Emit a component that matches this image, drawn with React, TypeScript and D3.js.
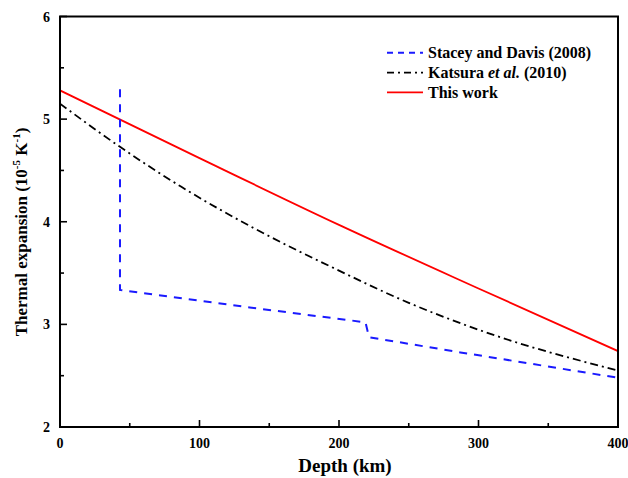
import React from "react";
import * as d3 from "d3";

const staceyDepth = [43, 43, 136, 219, 221.5, 287, 400];
const staceyAlpha = [5.29, 3.335, 3.165, 3.02, 2.875, 2.727, 2.48];

const katsuraDepth = [0, 43, 87, 140, 196, 250, 308, 400];
const katsuraAlpha = [5.15, 4.73, 4.34, 3.93, 3.55, 3.21, 2.91, 2.55];

const thisDepth = [0, 100, 200, 300, 400];
const thisAlpha = [5.28, 4.62, 3.97, 3.35, 2.74];

const xTicks = [0, 100, 200, 300, 400];
const xMinor = [50, 150, 250, 350];
const yTicks = [2, 3, 4, 5, 6];
const yMinor = [2.5, 3.5, 4.5, 5.5];

const W = 628, H = 478;
const left = 60, right = 618, top = 16.5, bottom = 427;

export default function App() {
  const x = d3.scaleLinear().domain([0, 400]).range([left, right]);
  const y = d3.scaleLinear().domain([2, 6]).range([bottom, top]);
  const line = d3.line<[number, number]>().x(d => x(d[0])).y(d => y(d[1]));
  const smooth = d3.line<[number, number]>().x(d => x(d[0])).y(d => y(d[1])).curve(d3.curveMonotoneX);
  const zip = (a: number[], b: number[]) => a.map((v, i) => [v, b[i]] as [number, number]);
  const font = "'Liberation Serif', 'Times New Roman', serif";
  return (
    <svg width={W} height={H} style={{ position: "absolute", left: 0, top: 0, background: "#fff" }} fontFamily={font}>
      <defs>
        <clipPath id="plot"><rect x={left} y={top} width={right - left} height={bottom - top} /></clipPath>
      </defs>
      <g clipPath="url(#plot)" fill="none" strokeWidth={1.8}>
        <path d={smooth(zip(katsuraDepth, katsuraAlpha)) || ""} stroke="#000" strokeDasharray="8,4,2,4" />
        <path d={smooth(zip(thisDepth, thisAlpha)) || ""} stroke="#ff0000" />
        <path d={line(zip(staceyDepth, staceyAlpha)) || ""} stroke="#1a1aff" strokeDasharray="8,7" strokeWidth={2} />
      </g>
      {/* ticks */}
      <g stroke="#000" strokeWidth={1.6}>
        {xTicks.map(t => <line key={"xt" + t} x1={x(t)} x2={x(t)} y1={bottom} y2={bottom - 7} />)}
        {xMinor.map(t => <line key={"xm" + t} x1={x(t)} x2={x(t)} y1={bottom} y2={bottom - 4} />)}
        {yTicks.map(t => <line key={"yt" + t} x1={left} x2={left + 7} y1={y(t)} y2={y(t)} />)}
        {yMinor.map(t => <line key={"ym" + t} x1={left} x2={left + 4} y1={y(t)} y2={y(t)} />)}
      </g>
      <rect x={left} y={top} width={right - left} height={bottom - top} fill="none" stroke="#000" strokeWidth={2} />
      <g fontWeight="bold" fontSize={14} fill="#000">
        {xTicks.map(t => <text key={"xl" + t} x={x(t)} y={448} textAnchor="middle">{t}</text>)}
        {yTicks.map(t => <text key={"yl" + t} x={50} y={y(t) + 5} textAnchor="end">{t}</text>)}
      </g>
      <text x={345} y={472} textAnchor="middle" fontWeight="bold" fontSize={19}>Depth (km)</text>
      <text transform={`translate(27, 232) rotate(-90)`} textAnchor="middle" fontWeight="bold" fontSize={17}>
        Thermal expansion (10<tspan fontSize={11} dy={-7}>-5</tspan><tspan dy={7}> K</tspan><tspan fontSize={11} dy={-7}>-1</tspan><tspan dy={7}>)</tspan>
      </text>
      {/* legend */}
      <g fontWeight="bold" fontSize={16}>
        <line x1={387} x2={423} y1={52.7} y2={52.7} stroke="#1a1aff" strokeWidth={2} strokeDasharray="6,5" />
        <text x={428} y={58}>Stacey and Davis (2008)</text>
        <line x1={387} x2={423} y1={72.7} y2={72.7} stroke="#000" strokeWidth={1.8} strokeDasharray="7,4,2,4" />
        <text x={428} y={78}>Katsura <tspan fontStyle="italic">et al.</tspan> (2010)</text>
        <line x1={387} x2={423} y1={92.3} y2={92.3} stroke="#ff0000" strokeWidth={1.8} />
        <text x={428} y={97.5}>This work</text>
      </g>
    </svg>
  );
}
